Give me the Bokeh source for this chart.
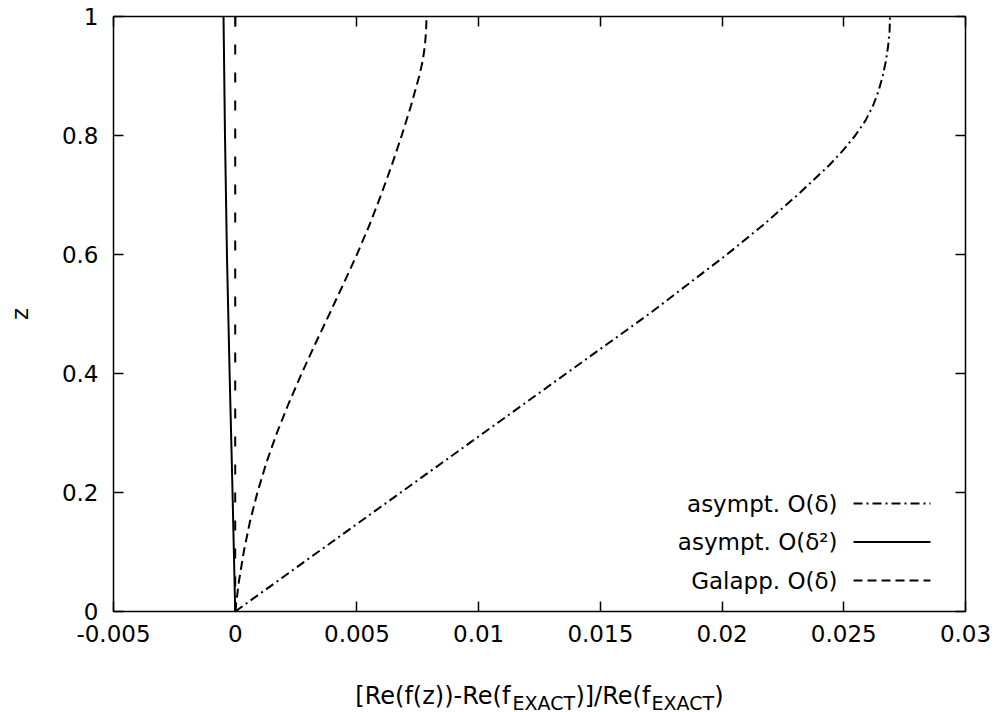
from bokeh.plotting import figure
from bokeh.layouts import column
from bokeh.models import Range1d, LinearAxis, FixedTicker, Label, Arrow, Span
from bokeh.core.properties import value
from bokeh.embed import file_html
from bokeh.resources import INLINE

# ---------------- data ----------------
# asympt. O(delta)  (dash-dot)
z_asym1 = [0.0, 0.05, 0.10, 0.15, 0.20, 0.25, 0.30, 0.35, 0.40, 0.45, 0.50,
           0.55, 0.60, 0.65, 0.70, 0.725, 0.75, 0.775, 0.80, 0.825, 0.85,
           0.875, 0.90, 0.925, 0.95, 0.975, 1.0]
v_asym1 = [0.0, 0.0017, 0.0034, 0.0051, 0.0068, 0.0085, 0.0102, 0.0119, 0.0136, 0.0153, 0.0170,
           0.0186, 0.0202, 0.0217, 0.0231, 0.02375, 0.0244, 0.02497, 0.02547, 0.02589, 0.0262,
           0.02643, 0.0266, 0.02673, 0.02682, 0.02688, 0.0269]

# asympt. O(delta^2)  (solid)
z_asym2 = [0.0, 0.2, 0.4, 0.6, 0.8, 1.0]
v_asym2 = [0.0, -0.00011, -0.00023, -0.00034, -0.00042, -0.00048]

# Galapp. O(delta)  (dashed)
z_gal = [0.0, 0.05, 0.10, 0.15, 0.20, 0.25, 0.30, 0.35, 0.40, 0.45, 0.50,
         0.55, 0.60, 0.65, 0.70, 0.75, 0.80, 0.85, 0.90, 0.925, 0.95, 0.975, 1.0]
v_gal = [0.0, 0.00015, 0.00035, 0.0006, 0.00091, 0.00128, 0.00171, 0.0022, 0.00273, 0.00329,
         0.00387, 0.00444, 0.005, 0.00552, 0.00599, 0.00643, 0.00684, 0.00722, 0.00756,
         0.0077, 0.00779, 0.00784, 0.00786]

x_ticks = [-0.005, 0.0, 0.005, 0.01, 0.015, 0.02, 0.025, 0.03]
x_tick_labels = ["-0.005", "0", "0.005", "0.01", "0.015", "0.02", "0.025", "0.03"]
y_ticks = [0.0, 0.2, 0.4, 0.6, 0.8, 1.0]
y_tick_labels = ["0", "0.2", "0.4", "0.6", "0.8", "1"]

legend_labels = ["asympt. O(δ)", "asympt. O(δ²)", "Galapp. O(δ)"]
legend_dashes = ["9 4 2 4", "solid", "9 5"]

x_label_parts = ["[Re(f(z))-Re(f", "EXACT", ")]/Re(f", "EXACT", ")"]
x_label_is_sub = [False, True, False, True, False]
y_label = "z"

# ---------------- styling ----------------
FONT = "DejaVu Sans"
FS = 23
LAB_FS = 24
SUB_FS = 19
W_TOTAL = 994
H_MAIN = 671
H_LAB = 41
BL, BR = 113, 29   # frame borders (left / right)

p = figure(width=W_TOTAL, height=H_MAIN, output_backend="svg", toolbar_location=None,
           x_range=Range1d(-0.005, 0.03), y_range=Range1d(0, 1),
           min_border_left=BL, min_border_right=BR, min_border_top=16,
           min_border_bottom=60)
p.grid.visible = False
p.outline_line_color = "black"
p.outline_line_width = 1.5
p.background_fill_color = "white"
p.border_fill_color = "white"


def style_axis(ax, ticks, labels=None, show=True):
    ax.ticker = FixedTicker(ticks=ticks)
    ax.major_tick_in = 10
    ax.major_tick_out = 0
    ax.major_tick_line_width = 1.5
    ax.major_tick_line_color = "black"
    ax.minor_tick_line_color = None
    ax.axis_line_color = None
    if show:
        ax.major_label_overrides = dict(zip(ticks, labels))
        ax.major_label_text_font = FONT
        ax.major_label_text_font_size = f"{FS}px"
        ax.major_label_text_color = "black"
    else:
        ax.major_label_text_color = None
        ax.major_label_text_font_size = "1px"
        ax.major_label_standoff = 0


style_axis(p.xaxis[0], x_ticks, x_tick_labels)
p.xaxis[0].major_label_standoff = 13
style_axis(p.yaxis[0], y_ticks, y_tick_labels)
p.yaxis[0].major_label_standoff = 15
p.yaxis[0].axis_label = y_label
p.yaxis[0].axis_label_text_font = FONT
p.yaxis[0].axis_label_text_font_size = f"{FS}px"
p.yaxis[0].axis_label_text_font_style = "normal"
p.yaxis[0].axis_label_text_color = "black"
p.yaxis[0].axis_label_standoff = 26

top_ax = LinearAxis()
style_axis(top_ax, x_ticks, show=False)
p.add_layout(top_ax, "above")
right_ax = LinearAxis()
style_axis(right_ax, y_ticks, show=False)
p.add_layout(right_ax, "right")

# zero line
p.add_layout(Span(location=0, dimension="height", line_color="black",
                  line_width=2, line_dash="10 18"))

# curves
p.line(v_asym1, z_asym1, line_color="black", line_width=2, line_dash=legend_dashes[0])
p.line(v_asym2, z_asym2, line_color="black", line_width=2)
p.line(v_gal, z_gal, line_color="black", line_width=2, line_dash=legend_dashes[2])

# legend (text right-aligned, sample to its right), frame-relative screen units
for i, (lab, dash) in enumerate(zip(legend_labels, legend_dashes)):
    yy = 108 - 38.5 * i
    p.add_layout(Label(x=724, y=yy, x_units="screen", y_units="screen", text=lab,
                       text_align="right", text_baseline="middle",
                       text_font=FONT, text_font_size=f"{FS}px", text_color="black"))
    p.add_layout(Arrow(x_start=740, y_start=yy, x_end=817, y_end=yy,
                       start_units="screen", end_units="screen", start=None, end=None,
                       line_color="black", line_width=2, line_dash=dash))

# ---- x axis label strip (with subscripts) ----
# The strip's frame is aligned with the main frame, so its x range is expressed
# in canvas pixels between the frame edges.
W = {'[': 0.390, ']': 0.390, '(': 0.390, ')': 0.390, 'R': 0.695, 'e': 0.615,
     'f': 0.352, 'z': 0.525, '-': 0.361, '/': 0.337, 'E': 0.632, 'X': 0.685,
     'A': 0.684, 'C': 0.698, 'T': 0.611}


def tw(s, fs):
    return sum(W.get(c, 0.6) for c in s) * fs


p2 = figure(width=W_TOTAL, height=H_LAB, output_backend="svg", toolbar_location=None,
            x_range=Range1d(BL, W_TOTAL - BR), y_range=Range1d(0, H_LAB),
            x_axis_type=None, y_axis_type=None,
            min_border_left=BL, min_border_right=BR, min_border_top=0,
            min_border_bottom=0)
p2.grid.visible = False
p2.outline_line_color = None
p2.background_fill_color = "white"
p2.border_fill_color = "white"

sizes = [SUB_FS if s else LAB_FS for s in x_label_is_sub]
total = sum(tw(t, f) for t, f in zip(x_label_parts, sizes))
xx = (BL + (W_TOTAL - BR)) / 2 - total / 2
for t, sub, f in zip(x_label_parts, x_label_is_sub, sizes):
    p2.text(x=[xx], y=[10 if sub else 17], text=[t], text_font=value(FONT),
            text_font_size=f"{f}px", text_align="left", text_baseline="alphabetic",
            text_color="black")
    xx += tw(t, f)

layout = column(p, p2, spacing=0)
open("out.html", "w").write(file_html(layout, INLINE))
